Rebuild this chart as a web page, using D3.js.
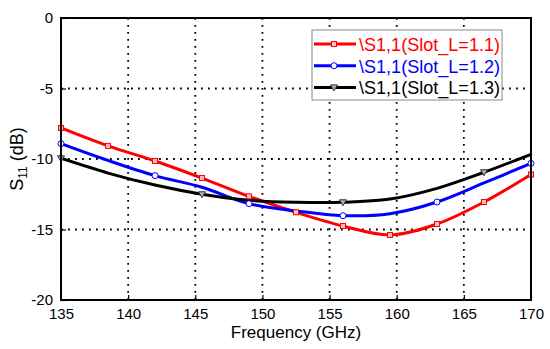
<!DOCTYPE html>
<html><head><meta charset="utf-8">
<script src="https://cdn.jsdelivr.net/npm/d3@7"></script>
<style>body{margin:0;background:#fff}svg{display:block}text{font-family:Arial,"Liberation Sans",sans-serif}</style>
</head><body><div id="chart"></div>
<script>
const freq = [135,138.5,142,145.5,149,152.5,156,159.5,163,166.5,170];
const s11_L11 = [-7.8,-9.07,-10.14,-11.35,-12.65,-13.78,-14.75,-15.39,-14.61,-13.05,-11.1];
const s11_L12 = [-8.91,-10.1,-11.18,-12.0,-13.17,-13.68,-14.02,-13.88,-13.05,-11.7,-10.31];
const s11_L13 = [-9.95,-11.0,-11.85,-12.5,-12.93,-13.07,-13.07,-12.84,-12.08,-10.94,-9.67];
const seriesNames = ["\\S1,1(Slot_L=1.1)","\\S1,1(Slot_L=1.2)","\\S1,1(Slot_L=1.3)"];
const xTicks = [135,140,145,150,155,160,165,170];
const yTicks = [0,-5,-10,-15,-20];

const W=550,H=349;
const m={l:61,r:19,t:18,b:49};
const svg=d3.select("#chart").append("svg").attr("width",W).attr("height",H);
const x=d3.scaleLinear().domain([135,170]).range([m.l,W-m.r]);
const y=d3.scaleLinear().domain([-20,0]).range([H-m.b,m.t]);

// grid
const g=svg.append("g");
g.selectAll(".vg").data(xTicks.slice(1,-1)).enter().append("line")
 .attr("x1",d=>x(d)).attr("x2",d=>x(d)).attr("y1",y(0)).attr("y2",y(-20))
 .attr("stroke","#000").attr("stroke-width",1.8).attr("stroke-dasharray","1.8,5.2");
g.selectAll(".hg").data(yTicks.slice(1,-1)).enter().append("line")
 .attr("y1",d=>y(d)).attr("y2",d=>y(d)).attr("x1",x(135)).attr("x2",x(170))
 .attr("stroke","#000").attr("stroke-width",1.8).attr("stroke-dasharray","1.8,5.2");

// axes
const fmt=d=>String(d);
const xa=svg.append("g").attr("transform",`translate(0,${y(-20)})`)
 .call(d3.axisBottom(x).tickValues(xTicks).tickFormat(fmt).tickSizeInner(-5).tickSizeOuter(0).tickPadding(8));
const ya=svg.append("g").attr("transform",`translate(${x(135)},0)`)
 .call(d3.axisLeft(y).tickValues(yTicks).tickFormat(fmt).tickSizeInner(-5).tickSizeOuter(0).tickPadding(8));
[xa,ya].forEach(a=>{a.select(".domain").remove();a.selectAll("line").attr("stroke","#000").attr("stroke-width",1.2);
 a.selectAll("text").attr("font-size",15).attr("fill","#000").style("font-family","Arial,'Liberation Sans',sans-serif");});

const series=[
 {vals:s11_L11,color:"#ff0000",marker:"square",every:1,mfill:"#ffc0c0"},
 {vals:s11_L12,color:"#0000ff",marker:"circle",every:2,mfill:"#c0c0ff"},
 {vals:s11_L13,color:"#000000",marker:"tri",every:3,mfill:"#b0b0b0"}
];
const line=d3.line().x(d=>x(d[0])).y(d=>y(d[1])).curve(d3.curveCatmullRom.alpha(0.5));
svg.append("clipPath").attr("id","cp").append("rect").attr("x",x(135)).attr("y",y(0)).attr("width",x(170)-x(135)).attr("height",y(-20)-y(0));

function drawMarker(sel,type,cx,cy,color,fill){
 if(type==="square") sel.append("rect").attr("x",cx-2.5).attr("y",cy-2.5).attr("width",5).attr("height",5).attr("fill",fill).attr("stroke",color).attr("stroke-width",1);
 else if(type==="circle") sel.append("circle").attr("cx",cx).attr("cy",cy).attr("r",3).attr("fill","#fff").attr("stroke",color).attr("stroke-width",1);
 else sel.append("path").attr("d",`M${cx-3.5},${cy-2.5}L${cx+3.5},${cy-2.5}L${cx},${cy+3.5}Z`).attr("fill",fill).attr("stroke","#333").attr("stroke-width",1);
}
series.forEach(s=>{
 const pts=freq.map((f,i)=>[f,s.vals[i]]);
 svg.append("path").datum(pts).attr("d",line).attr("fill","none").attr("stroke",s.color).attr("stroke-width",3).attr("clip-path","url(#cp)");
});
series.forEach(s=>{
 const mg=svg.append("g");
 freq.forEach((f,i)=>{ if(i%s.every===0) drawMarker(mg,s.marker,x(f),y(s.vals[i]),s.color,s.mfill); });
});

// frame
svg.append("rect").attr("x",x(135)).attr("y",y(0)).attr("width",x(170)-x(135)).attr("height",y(-20)-y(0))
 .attr("fill","none").attr("stroke","#000").attr("stroke-width",2);

// legend
const lg=svg.append("g");
lg.append("rect").attr("x",312).attr("y",30).attr("width",190).attr("height",70).attr("fill","#fff").attr("stroke","#888").attr("stroke-width",1);
series.forEach((s,i)=>{
 const yy=44+i*21.7;
 lg.append("line").attr("x1",314).attr("x2",356).attr("y1",yy).attr("y2",yy).attr("stroke",s.color).attr("stroke-width",3);
 drawMarker(lg,s.marker,334,yy,s.color,s.mfill);
 lg.append("text").attr("x",359).attr("y",yy).attr("dy","0.36em").attr("font-size",19).attr("fill",s.color)
  .attr("textLength",141).attr("lengthAdjust","spacingAndGlyphs").text(seriesNames[i]);
});

// axis titles
svg.append("text").attr("x",(x(135)+x(170))/2).attr("y",338).attr("text-anchor","middle").attr("font-size",17).text("Frequency (GHz)");
const yt=svg.append("text").attr("transform",`translate(23,${(y(0)+y(-20))/2}) rotate(-90)`).attr("text-anchor","middle").attr("font-size",18);
yt.append("tspan").text("S");
yt.append("tspan").attr("font-size",12).attr("dy",4).text("11");
yt.append("tspan").attr("dy",-4).text(" (dB)");
</script></body></html>
